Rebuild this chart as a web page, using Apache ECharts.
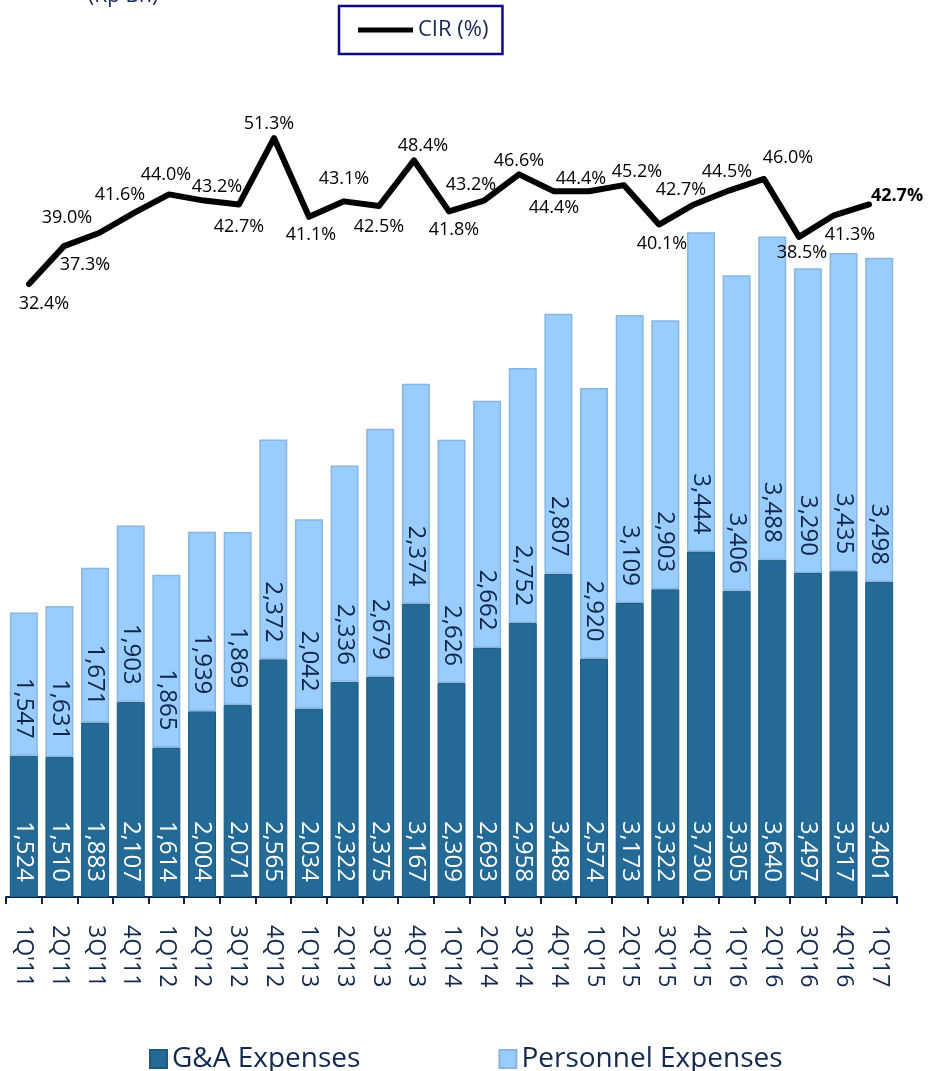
<!DOCTYPE html>
<html>
<head>
<meta charset="utf-8">
<script src="https://cdn.jsdelivr.net/npm/echarts@6/dist/echarts.min.js"></script>
<style>
html,body{margin:0;padding:0;background:#fff;}
#chart{width:928px;height:1071px;}
</style>
</head>
<body>
<div id="chart"></div>
<script>
const categories = ["1Q'11","2Q'11","3Q'11","4Q'11","1Q'12","2Q'12","3Q'12","4Q'12","1Q'13","2Q'13","3Q'13","4Q'13","1Q'14","2Q'14","3Q'14","4Q'14","1Q'15","2Q'15","3Q'15","4Q'15","1Q'16","2Q'16","3Q'16","4Q'16","1Q'17"];
const gaExpenses = [1524,1510,1883,2107,1614,2004,2071,2565,2034,2322,2375,3167,2309,2693,2958,3488,2574,3173,3322,3730,3305,3640,3497,3517,3401];
const personnelExpenses = [1547,1631,1671,1903,1865,1939,1869,2372,2042,2336,2679,2374,2626,2662,2752,2807,2920,3109,2903,3444,3406,3488,3290,3435,3498];
const cir = [32.4,37.3,39.0,41.6,44.0,43.2,42.7,51.3,41.1,43.1,42.5,48.4,41.8,43.2,46.6,44.4,44.4,45.2,40.1,42.7,44.5,46.0,38.5,41.3,42.7];

// label placement (layout only)
const cirLabelOffsets = [[15,20],[21,19],[-32,-15],[-14,-18],[-3,-20],[13,-14],[0,22],[-5,-14],[2,18],[0,-22],[0,21],[9,-15],[5,18],[-13,-16],[0,-13],[0,17],[-8,-12],[13,-13],[3,19],[-13,-15],[-2,-19],[24,-21],[3,16],[16,20],[28,-9]];

const FONT = "'Open Sans', 'Liberation Sans', sans-serif";
const NAVY = '#13294f';

const chart = echarts.init(document.getElementById('chart'), null, {renderer:'canvas'});

const lineData = cir.map((v, i) => {
  const isLast = i === cir.length - 1;
  return {
    value: v,
    label: {
      offset: cirLabelOffsets[i],
      fontWeight: isLast ? 'bold' : 'normal'
    }
  };
});

chart.setOption({
  animation: false,
  backgroundColor: '#ffffff',
  textStyle: {fontFamily: FONT},
  graphic: [{
    type: 'text', left: 88, top: -14,
    style: {text: '(Rp Bn)', fontSize: 21, fontFamily: FONT, fill: NAVY}
  }],
  legend: [{
    data: ['CIR (%)'],
    left: 339, top: 6,
    padding: [13, 14, 13, 19],
    borderColor: '#0b0b80', borderWidth: 2.5,
    icon: 'rect', itemWidth: 55, itemHeight: 5, itemGap: 5,
    textStyle: {fontSize: 22, color: NAVY, fontFamily: FONT}
  }, {
    data: ['G&A Expenses', 'Personnel Expenses'],
    left: 144, top: 1040,
    icon: 'rect', itemWidth: 17, itemHeight: 18, itemGap: 138,
    textStyle: {fontSize: 28, color: NAVY, fontFamily: FONT}
  }],
  grid: [
    {left: 6, right: 31, top: 40, bottom: 174},
    {left: 11.5, right: 41.5, top: 40, bottom: 174}
  ],
  xAxis: [{
    type: 'category', gridIndex: 0, data: categories,
    axisLine: {lineStyle: {color: '#0d2546', width: 2}},
    axisTick: {show: true, length: 7, interval: 0, lineStyle: {color: '#0d2546', width: 2}},
    axisLabel: {rotate: -90, interval: 0, margin: 28, fontSize: 23, color: NAVY, fontFamily: FONT}
  }, {
    type: 'category', gridIndex: 1, data: categories, show: false
  }],
  yAxis: [{
    type: 'value', gridIndex: 0, min: 0, max: 9250, show: false, splitLine: {show: false}
  }, {
    type: 'value', gridIndex: 1, min: -47, max: 64, show: false, splitLine: {show: false}
  }],
  series: [{
    name: 'G&A Expenses', type: 'bar', stack: 'total',
    xAxisIndex: 0, yAxisIndex: 0, data: gaExpenses, barWidth: 28,
    itemStyle: {color: '#236a96', borderColor: '#1c5a82', borderWidth: 1},
    label: {
      show: true, position: 'insideBottom', distance: 15, rotate: -90,
      align: 'right', verticalAlign: 'middle',
      fontSize: 24, color: '#ffffff', fontFamily: FONT,
      formatter: p => p.value.toLocaleString('en-US')
    }
  }, {
    name: 'Personnel Expenses', type: 'bar', stack: 'total',
    xAxisIndex: 0, yAxisIndex: 0, data: personnelExpenses, barWidth: 28,
    itemStyle: {color: '#99ccff', borderColor: '#88b6de', borderWidth: 1.5},
    label: {
      show: true, position: 'insideBottom', distance: 17, rotate: -90,
      align: 'right', verticalAlign: 'middle',
      fontSize: 24, color: '#0e2547', fontFamily: FONT,
      formatter: p => p.value.toLocaleString('en-US')
    }
  }, {
    name: 'CIR (%)', type: 'line',
    xAxisIndex: 1, yAxisIndex: 1, data: lineData,
    symbol: 'circle', symbolSize: 1, z: 5,
    itemStyle: {color: '#000000'},
    lineStyle: {color: '#000000', width: 6, cap: 'round', join: 'round'},
    label: {
      show: true, position: 'inside', fontSize: 18, color: '#000000', fontFamily: FONT,
      formatter: p => p.value.toFixed(1) + '%'
    }
  }]
});
</script>
</body>
</html>
